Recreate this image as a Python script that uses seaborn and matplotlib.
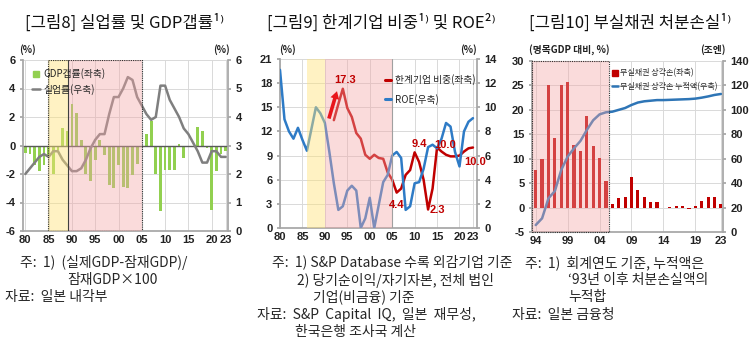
import matplotlib
matplotlib.use("Agg")
import matplotlib.pyplot as plt
import seaborn as sns
import pandas as pd
from matplotlib.lines import Line2D
from matplotlib.patches import Rectangle
from matplotlib.font_manager import FontProperties

# ---------------- data ----------------
# Panel 1: GDP gap (left) and unemployment rate (right), 1980-2023
years1 = list(range(1980, 2024))
gdp_gap = [-0.5, -0.6, -1.4, -1.8, -1.4, -0.7, -2.0, -0.3, 1.2, 1.0,
           2.9, 2.3, 0.4, -2.0, -2.5, -1.0, 0.4, -0.7, -2.8, -3.0,
           -1.4, -2.9, -3.0, -2.1, -1.3, -0.1, 0.8, 1.7, -2.0, -4.6,
           -1.7, -1.7, -1.7, 0.1, -0.9, -0.1, -0.1, 1.3, 1.0, -0.2,
           -4.5, -1.8, -0.6, -0.4]
unemp = [2.0, 2.2, 2.4, 2.6, 2.7, 2.6, 2.8, 2.8, 2.5, 2.3,
         2.1, 2.1, 2.2, 2.5, 2.9, 3.2, 3.4, 3.4, 4.1, 4.7,
         4.7, 5.0, 5.4, 5.3, 4.7, 4.4, 4.1, 3.9, 4.0, 5.1,
         5.1, 4.6, 4.3, 4.0, 3.6, 3.4, 3.1, 2.8, 2.4, 2.4,
         2.8, 2.8, 2.6, 2.6]

# Panel 2: zombie-firm share (left, 1992-2023) and ROE (right, 1980-2023)
years_zombie = list(range(1992, 2024))
zombie = [13.4, 15.4, 17.3, 14.9, 13.8, 11.8, 11.1, 9.1, 8.6, 9.1,
          8.7, 8.6, 6.9, 6.0, 4.4, 4.9, 6.6, 7.2, 9.4, 8.2,
          6.0, 2.3, 4.9, 10.0, 9.5, 9.1, 8.9, 8.9, 9.0, 9.5,
          9.9, 10.0]
years_roe = list(range(1980, 2024))
roe = [13.1, 9.0, 8.0, 7.4, 8.3, 7.3, 6.4, 8.2, 10.0, 9.5,
       8.7, 6.3, 3.7, 1.5, 1.8, 3.1, 3.5, 3.1, 0.0, 0.8,
       2.5, 0.0, 1.9, 3.8, 4.4, 6.0, 6.3, 5.8, 1.5, 1.8,
       3.7, 3.8, 4.9, 6.7, 6.9, 6.6, 7.4, 8.7, 8.4, 6.3,
       5.1, 8.0, 8.8, 9.1]

# Panel 3: NPL write-offs (% of nominal GDP, left) and cumulative (tril. yen, right)
years3 = list(range(1994, 2024))
writeoff = [7.6, 10.0, 25.0, 14.3, 25.0, 25.7, 12.9, 11.6, 18.7, 12.6,
            10.2, 5.4, 0.7, 2.0, 2.2, 6.3, 3.5, 2.1, 1.2, 1.2,
            -0.1, 0.1, 0.3, 0.3, -0.2, 0.3, 1.3, 2.1, 2.1, 0.7]
cumulative = [5.7, 11.2, 27.6, 33.5, 50.8, 61.7, 68.5, 74.5, 83.5, 91.5,
              96.3, 98.0, 98.5, 100.0, 101.5, 104.0, 106.0, 107.0, 107.5, 108.0,
              108.0, 108.2, 108.4, 108.6, 108.8, 109.2, 110.0, 111.0, 112.2, 113.0]

# annotated values in panel 2
zombie_labels = ["17.3", "9.4", "10.0", "10.0", "4.4", "2.3"]

# ---------------- style ----------------
sns.set_theme(style="white")
plt.rcParams['font.family'] = ['Noto Sans CJK KR', 'DejaVu Sans']
plt.rcParams['axes.unicode_minus'] = False

W, H = 749, 340
fig = plt.figure(figsize=(W / 100, H / 100), dpi=100)


def axrect(l, t, r, b):
    return [l / W, 1 - b / H, (r - l) / W, (b - t) / H]


def ftext(x, y, s, **kw):
    kw.setdefault('va', 'center')
    kw.setdefault('ha', 'left')
    fig.text(x / W, 1 - y / H, s, **kw)


TICKFONT = dict(fontfamily=['Liberation Sans Narrow', 'Liberation Sans'],
                fontweight='bold', fontsize=8, color='#222222')
GRID = '#D9D9D9'
SPINE = '#A6A6A6'
YEL = '#FFE47A'
PINK = '#F4A6A6'
GREEN = '#92D050'
GRAY = '#7F7F7F'
RED = '#C00000'
BLUE = '#2E7BC6'
BLUE3 = '#2E75B6'
NOTE_FS = 10
LEG_FP = FontProperties(family=['Noto Sans CJK KR', 'DejaVu Sans'], size=7)
LEG_FP3 = FontProperties(family=['Noto Sans CJK KR', 'DejaVu Sans'], size=5.8)


def style_axes(ax, ax2, xticks, xlabels, yl, yr):
    ax.set_xticks(xticks, labels=xlabels, **TICKFONT)
    ax.set_yticks(yl, labels=[str(v) for v in yl], **TICKFONT)
    ax2.set_yticks(yr, labels=[str(v) for v in yr], **TICKFONT)
    ax.set_ylim(yl[0], yl[-1])
    ax2.set_ylim(yr[0], yr[-1])
    ax.grid(True, color=GRID, lw=0.7)
    ax.set_axisbelow(True)
    ax2.grid(False)
    for a in (ax, ax2):
        a.set_xlabel('')
        a.set_ylabel('')
        for s in a.spines.values():
            s.set_visible(False)
    ax.spines['left'].set_visible(True)
    ax.spines['left'].set_color(SPINE)
    ax.spines['bottom'].set_visible(True)
    ax.spines['bottom'].set_color(SPINE)
    ax2.spines['right'].set_visible(True)
    ax2.spines['right'].set_color(SPINE)
    ax.tick_params(axis='x', length=0, pad=3)
    ax.tick_params(axis='y', length=2.5, color=SPINE, pad=3, left=True)
    ax2.tick_params(axis='y', length=2.5, color=SPINE, pad=3, right=True)


# ================= Panel 1 =================
ax1 = fig.add_axes(axrect(23, 60, 228, 231))
ax1b = ax1.twinx()
df1 = pd.DataFrame({'year': years1, 'gap': gdp_gap, 'unemp': unemp})
sns.barplot(data=df1, x='year', y='gap', native_scale=True, color=GREEN,
            width=0.6, errorbar=None, saturation=1, linewidth=0, ax=ax1)
sns.lineplot(data=df1, x='year', y='unemp', color=GRAY, lw=1.8, ax=ax1b,
             legend=False)
ax1.axhline(0, color='#595959', lw=1.0, zorder=1.5)
ax1.set_xlim(1979.5, 2023.5)
style_axes(ax1, ax1b, [1980, 1985, 1990, 1995, 2000, 2005, 2010, 2015, 2020, 2023],
           ['80', '85', '90', '95', '00', '05', '10', '15', '20', '23'],
           [-6, -4, -2, 0, 2, 4, 6], [0, 1, 2, 3, 4, 5, 6])
ax1b.set_xlim(1979.5, 2023.5)
ax1b.axvspan(1984.9, 1989.2, color=YEL, alpha=0.45, lw=0, zorder=3)
ax1b.axvspan(1989.2, 2005.0, color=PINK, alpha=0.4, lw=0, zorder=3)
ax1b.add_patch(Rectangle((1984.9, 0), 2005.0 - 1984.9, 6, fill=False,
                         ls=(0, (1, 1)), lw=0.8, ec='#303030', zorder=4))
ax1b.axvline(1989.2, color='#404040', lw=0.8, zorder=4)
h1 = [Line2D([], [], marker='s', color=GREEN, ls='none', markersize=4.5),
      Line2D([], [], color=GRAY, lw=1.8)]
ax1b.legend(h1, ['GDP갭률(좌축)', '실업률(우축)'], loc='upper left',
            bbox_to_anchor=(0.01, 0.99), frameon=False, handlelength=0.8,
            handletextpad=0.4, borderpad=0.2, labelspacing=0.45, prop=LEG_FP)

# ================= Panel 2 =================
ax2 = fig.add_axes(axrect(280, 59, 477, 228))
ax2b = ax2.twinx()
dfz = pd.DataFrame({'year': years_zombie, 'share': zombie})
dfr = pd.DataFrame({'year': years_roe, 'roe': roe})
sns.lineplot(data=dfz, x='year', y='share', color=RED, lw=1.8, ax=ax2,
             legend=False)
sns.lineplot(data=dfr, x='year', y='roe', color=BLUE, lw=1.8, ax=ax2b,
             legend=False)
ax2.set_xlim(1980, 2023.9)
ax2b.set_xlim(1980, 2023.9)
style_axes(ax2, ax2b, [1980, 1985, 1990, 1995, 2000, 2005, 2010, 2015, 2020, 2023],
           ['80', '85', '90', '95', '00', '05', '10', '15', '20', '23'],
           [0, 3, 6, 9, 12, 15, 18, 21], [0, 2, 4, 6, 8, 10, 12, 14])
ax2b.axvspan(1986.0, 1990.0, color=YEL, alpha=0.45, lw=0, zorder=3)
ax2b.axvspan(1990.0, 2004.9, color=PINK, alpha=0.4, lw=0, zorder=3)
ax2b.axvline(2004.9, color='#A0A0A0', lw=0.8, zorder=4)
# value labels (positions in left-axis data units)
lab_pos = [(1994.5, 18.4), (2011.0, 10.4), (2016.7, 10.3), (2023.4, 8.2),
           (2006.1, 2.9), (2015.0, 2.2)]
for txt, (lx, ly) in zip(zombie_labels, lab_pos):
    ax2b.annotate(txt, xy=(lx, ly), xycoords=ax2.transData, ha='center',
                  va='center', color=RED, fontsize=8,
                  fontfamily=['Liberation Sans Narrow', 'Liberation Sans'],
                  fontweight='bold', zorder=6, annotation_clip=False)
ax2b.annotate('', xy=(1992.7, 17.0), xytext=(1990.9, 13.6),
              xycoords=ax2.transData, textcoords=ax2.transData,
              arrowprops=dict(facecolor='#E8151B', edgecolor='none', width=2.6,
                              headwidth=6.5, headlength=5.5), zorder=6)
h2 = [Line2D([], [], color=RED, lw=2.2), Line2D([], [], color=BLUE, lw=2.2)]
ax2b.legend(h2, ['한계기업 비중(좌축)', 'ROE(우축)'], loc='upper left',
            bbox_to_anchor=(0.5, 0.95), frameon=False, handlelength=0.6,
            handletextpad=0.4, borderpad=0.2, labelspacing=0.9, prop=LEG_FP)

# ================= Panel 3 =================
ax3 = fig.add_axes(axrect(532, 61, 723, 232))
ax3b = ax3.twinx()
df3 = pd.DataFrame({'year': years3, 'w': writeoff, 'c': cumulative})
sns.barplot(data=df3, x='year', y='w', native_scale=True, color=RED,
            width=0.5, errorbar=None, saturation=1, linewidth=0, ax=ax3)
sns.lineplot(data=df3, x='year', y='c', color=BLUE3, lw=1.8, ax=ax3b,
             legend=False)
ax3.set_xlim(1993.42, 2023.33)
ax3b.set_xlim(1993.42, 2023.33)
style_axes(ax3, ax3b, [1994, 1999, 2004, 2009, 2014, 2019, 2023],
           ['94', '99', '04', '09', '14', '19', '23'],
           [-5, 0, 5, 10, 15, 20, 25, 30], [0, 20, 40, 60, 80, 100, 120, 140])
ax3b.axvspan(1993.42, 2005.47, color=PINK, alpha=0.4, lw=0, zorder=3)
ax3b.add_patch(Rectangle((1993.42, 0), 2005.47 - 1993.42, 140, fill=False,
                         ls=(0, (1, 1)), lw=0.8, ec='#303030', zorder=4,
                         clip_on=False))
h3 = [Line2D([], [], marker='s', color=RED, ls='none', markersize=4),
      Line2D([], [], color=BLUE3, lw=1.8)]
ax3b.legend(h3, ['부실채권 상각손(좌축)', '부실채권 상각손 누적액(우축)'],
            loc='upper left', bbox_to_anchor=(0.39, 0.99), frameon=False,
            handlelength=0.7, handletextpad=0.3, borderpad=0.2,
            labelspacing=0.55, prop=LEG_FP3)

# ================= titles / unit labels =================
TITLE = dict(ha='center', fontsize=12, fontweight='medium', color='#111111')
ftext(125, 23, '[그림8] 실업률 및 GDP갭률¹⁾', **TITLE)
ftext(381, 23, '[그림9] 한계기업 비중¹⁾ 및 ROE²⁾', **TITLE)
ftext(630, 23, '[그림10] 부실채권 처분손실¹⁾', **TITLE)

UNIT = dict(fontsize=7, fontweight='bold', ha='center', color='#222222')
ftext(28, 50, '(%)', **UNIT)
ftext(221, 50, '(%)', **UNIT)
ftext(288, 50, '(%)', **UNIT)
ftext(468, 50, '(%)', **UNIT)
ftext(569, 50, '(명목GDP 대비, %)', **UNIT)
ftext(713, 50, '(조엔)', **UNIT)

# ================= notes =================
ftext(20, 263, '주:  1)  (실제GDP-잠재GDP)/', fontsize=NOTE_FS)
ftext(67, 280, '잠재GDP×100', fontsize=NOTE_FS)
ftext(5, 297, '자료:  일본 내각부', fontsize=NOTE_FS)

ftext(272, 262, '주:  1) S&P Database 수록 외감기업 기준', fontsize=NOTE_FS)
ftext(297, 280, '2) 당기순이익/자기자본, 전체 법인', fontsize=NOTE_FS)
ftext(313, 297, '기업(비금융) 기준', fontsize=NOTE_FS)
ftext(257, 315, '자료:  S&P  Capital  IQ,  일본  재무성,', fontsize=NOTE_FS)
ftext(295, 332, '한국은행 조사국 계산', fontsize=NOTE_FS)

ftext(525, 263, '주:  1)  회계연도 기준, 누적액은', fontsize=NOTE_FS)
ftext(568, 280, '‘93년 이후 처분손실액의', fontsize=NOTE_FS)
ftext(568, 297, '누적합', fontsize=NOTE_FS)
ftext(512, 315, '자료:  일본 금융청', fontsize=NOTE_FS)

fig.savefig('out.png', dpi=100)
